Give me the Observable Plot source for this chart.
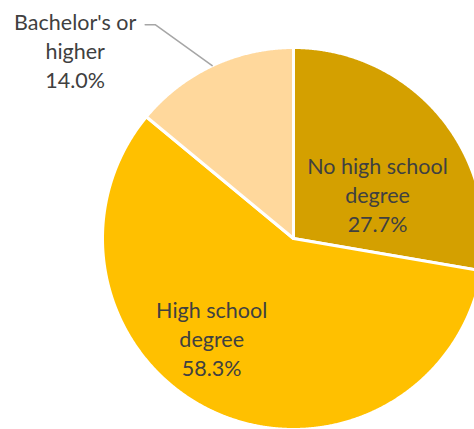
<!DOCTYPE html>
<html><head><meta charset="utf-8">
<script src="https://cdn.jsdelivr.net/npm/d3@7"></script>
<script src="https://cdn.jsdelivr.net/npm/@observablehq/plot@0.6"></script>
<style>html,body{margin:0;padding:0;background:#fff;overflow:hidden}</style>
</head><body><div id="chart"></div>
<script>
// ---- data ----
const categories = ["No high school degree", "High school degree", "Bachelor's or higher"];
const labelLines = [["No high school", "degree"], ["High school", "degree"], ["Bachelor's or", "higher"]];
const values = [27.7, 58.3, 14.0];
const colors = ["#D4A000", "#FFC000", "#FFD89C"];

// ---- layout ----
const W = 474, H = 429, cx = 293, cy = 238, R = 191;
const FONT = "Lato, 'Noto Sans', sans-serif";
const FS = 21.5;

const pie = d3.pie().sort(null).value(d => d)(values);

// wedge outlines in unit coordinates (radius 1), angle clockwise from 12 o'clock
const wedges = [];
pie.forEach((p, i) => {
  const cat = categories[i];
  wedges.push({cat, x: 0, y: 0});
  const n = Math.max(2, Math.ceil((p.endAngle - p.startAngle) / 0.005));
  for (let k = 0; k <= n; k++) {
    const a = p.startAngle + (p.endAngle - p.startAngle) * k / n;
    wedges.push({cat, x: Math.sin(a), y: Math.cos(a)});
  }
  wedges.push({cat, x: 0, y: 0});
});

// label placement: along mid angle at a radius fraction, with pixel nudges
const labelRadius = [0.5, 0.6, 1.0];
const labelNudge = [[11, 17], [-34, -5], [0, 0]];
const labels = pie.map((p, i) => {
  const mid = (p.startAngle + p.endAngle) / 2;
  return {
    cat: categories[i],
    x: labelRadius[i] * Math.sin(mid) + labelNudge[i][0] / R,
    y: labelRadius[i] * Math.cos(mid) - labelNudge[i][1] / R,
    text: labelLines[i].join("\n") + "\n" + values[i].toFixed(1) + "%"
  };
});

// outside label for the small slice with a leader line
const bi = 2;
const bmid = (pie[bi].startAngle + pie[bi].endAngle) / 2;
const edge = {x: Math.sin(bmid), y: Math.cos(bmid)};
const elbow = {x: edge.x - 57 / R, y: edge.y + 41 / R};
const lineEnd = {x: elbow.x - 10 / R, y: elbow.y};
const leader = [edge, elbow, lineEnd];
const outLabel = [{x: lineEnd.x, y: lineEnd.y, text: labels[bi].text}];

const chart = Plot.plot({
  width: W, height: H,
  margin: 0,
  x: {domain: [-cx / R, (W - cx) / R], range: [0, W], axis: null},
  y: {domain: [cy / R, -(H - cy) / R], range: [0, H], axis: null},
  color: {domain: categories, range: colors},
  style: {fontFamily: FONT, background: "#fff"},
  marks: [
    Plot.line(wedges, {x: "x", y: "y", z: "cat", fill: "cat", stroke: "white", strokeWidth: 3, strokeLinejoin: "round", curve: "linear", clip: true}),
    Plot.line(leader, {x: "x", y: "y", stroke: "#A6A6A6", strokeWidth: 1.5}),
    Plot.text(labels.slice(0, 2), {x: "x", y: "y", text: "text", fill: "#404040", fontSize: FS, lineHeight: 1.34, textAnchor: "middle"}),
    Plot.text(outLabel, {x: "x", y: "y", text: "text", fill: "#404040", fontSize: FS, lineHeight: 1.34, textAnchor: "middle", dx: -70, dy: 25})
  ]
});
document.getElementById("chart").append(chart);
</script>
</body></html>
